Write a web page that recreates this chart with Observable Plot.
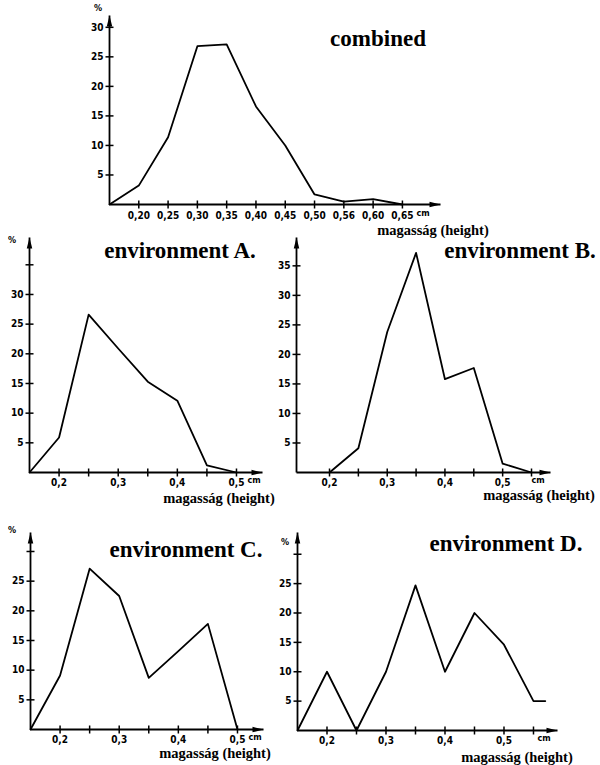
<!DOCTYPE html>
<html>
<head>
<meta charset="utf-8">
<script src="https://cdn.jsdelivr.net/npm/d3@7"></script>
<script src="https://cdn.jsdelivr.net/npm/@observablehq/plot@0.6"></script>
<style>
  body { margin: 0; background: #fff; }
  #wrap { position: relative; width: 600px; height: 765px; overflow: hidden; background: #fff; }
  .panel { position: absolute; }
  .lbl { position: absolute; transform: translate(-50%, -50%); white-space: nowrap; color: #000; line-height: 1; }
  .title { font-family: "Liberation Serif", "DejaVu Serif", serif; font-weight: bold; font-size: 23px; }
  .xname { font-family: "Liberation Serif", "DejaVu Serif", serif; font-weight: bold; font-size: 14.5px; }
  .pct { font-family: "DejaVu Sans Condensed", "DejaVu Sans", sans-serif; font-size: 9px; font-weight: bold; }
</style>
</head>
<body>
<div id="wrap"></div>
<script>
// ---------- data ----------
const combinedX = [0.15, 0.20, 0.25, 0.30, 0.35, 0.40, 0.45, 0.50, 0.55, 0.60, 0.65];
const combinedY = [0, 3.2, 11.4, 26.8, 27.1, 16.6, 10.0, 1.7, 0.5, 0.9, 0];
const combinedXTicks = [0.20, 0.25, 0.30, 0.35, 0.40, 0.45, 0.50, 0.55, 0.60, 0.65];
const combinedXLabels = ["0,20", "0,25", "0,30", "0,35", "0,40", "0,45", "0,50", "0,56", "0,60", "0,65"];
const combinedYTicks = [5, 10, 15, 20, 25, 30];
const combinedYLabels = ["5", "10", "15", "20", "25", "30"];

const envAX = [0.15, 0.20, 0.25, 0.30, 0.35, 0.40, 0.45, 0.50];
const envAY = [0, 5.9, 26.6, 20.9, 15.3, 12.1, 1.2, 0];
const envBX = [0.20, 0.25, 0.30, 0.35, 0.40, 0.45, 0.50, 0.55];
const envBY = [0, 4.1, 23.8, 37.2, 15.8, 17.7, 1.5, 0];
const envCX = [0.15, 0.20, 0.25, 0.30, 0.35, 0.40, 0.45, 0.50];
const envCY = [0, 9.1, 27.1, 22.5, 8.7, 13.2, 17.8, 0];
const envDX = [0.15, 0.20, 0.25, 0.30, 0.35, 0.40, 0.45, 0.50, 0.55, 0.57];
const envDY = [0, 10, 0, 10, 24.7, 10, 20, 14.6, 5, 5];

const envXTicksAC = [0.20, 0.25, 0.30, 0.35, 0.40, 0.45, 0.50];
const envXLabelsAC = ["0,2", "", "0,3", "", "0,4", "", "0,5"];
const envXTicksBD = [0.20, 0.25, 0.30, 0.35, 0.40, 0.45, 0.50, 0.55];
const envXLabelsBD = ["0,2", "", "0,3", "", "0,4", "", "0,5", ""];
const envYTicksAB = [5, 10, 15, 20, 25, 30, 35];
const envYLabelsAB = ["5", "10", "15", "20", "25", "30", "35"];
const envYLabelsA = ["5", "10", "15", "20", "25", "30", ""];
const envYTicksCD = [5, 10, 15, 20, 25, 30];
const envYLabelsCD = ["5", "10", "15", "20", "25", ""];

const titles = ["combined", "environment A.", "environment B.", "environment C.", "environment D."];
const xName = "magasság (height)";
const unitX = "cm";
const unitY = "%";

// ---------- arrowhead symbols ----------
const rad = size => Math.sqrt(size / Math.PI);
const headRight = {draw(ctx, size) { const r = rad(size); ctx.moveTo(0, 0); ctx.lineTo(-2 * r, -0.5 * r); ctx.lineTo(-2 * r, 0.5 * r); ctx.closePath(); }};
const headUp = {draw(ctx, size) { const r = rad(size); ctx.moveTo(0, 0); ctx.lineTo(-0.5 * r, 2 * r); ctx.lineTo(0.5 * r, 2 * r); ctx.closePath(); }};

// ---------- drawing ----------
const wrap = document.getElementById("wrap");
const tickFont = '"DejaVu Sans Condensed", "DejaVu Sans", sans-serif';
const TICK = 4; // tick half-length in px

function panel(cfg) {
  const data = cfg.xs.map((x, i) => ({x, y: cfg.ys[i]}));
  const x0 = cfg.xDomain[0], x1 = cfg.xDomain[1];
  const y0 = cfg.yDomain[0], y1 = cfg.yDomain[1];
  const hx = TICK * (x1 - x0) / (cfg.width - cfg.ml - cfg.mr);
  const hy = TICK * (y1 - y0) / (cfg.height - cfg.mt - cfg.mb);
  const xl = cfg.xTicks.map((x, i) => ({x, y: y0, label: cfg.xLabels[i]}));
  const yl = cfg.yTicks.map((y, i) => ({x: x0, y, label: cfg.yLabels[i]}));
  const xTickSegs = cfg.xTicks.map(x => ({p: x, q: x, r: y0 - hy, s: y0 + hy}));
  const yTickSegs = cfg.yTicks.map(y => ({p: x0 - hx, q: x0 + hx, r: y, s: y}));
  const svg = Plot.plot({
    width: cfg.width, height: cfg.height,
    marginLeft: cfg.ml, marginRight: cfg.mr, marginTop: cfg.mt, marginBottom: cfg.mb,
    style: {overflow: "visible", background: "transparent"},
    x: {domain: cfg.xDomain, axis: null},
    y: {domain: cfg.yDomain, axis: null},
    marks: [
      Plot.link([{a: x0, b: x1, c: y0}], {x1: "a", x2: "b", y1: "c", y2: "c", stroke: "black", strokeWidth: 1.8}),
      Plot.link([{a: x0, b: y0, c: y1}], {x1: "a", x2: "a", y1: "b", y2: "c", stroke: "black", strokeWidth: 1.8}),
      Plot.dot([{a: x1, b: y0}], {x: "a", y: "b", symbol: headRight, r: 5.5, fill: "black", stroke: "none"}),
      Plot.dot([{a: x0, b: y1}], {x: "a", y: "b", symbol: headUp, r: 5.5, fill: "black", stroke: "none"}),
      Plot.link(xTickSegs, {x1: "p", x2: "q", y1: "r", y2: "s", stroke: "black", strokeWidth: 1.5}),
      Plot.link(yTickSegs, {x1: "p", x2: "q", y1: "r", y2: "s", stroke: "black", strokeWidth: 1.5}),
      Plot.text(xl, {x: "x", y: "y", text: "label", dy: cfg.xLabelDy, fontSize: 10, fontFamily: tickFont, fontWeight: "bold", fill: "black"}),
      Plot.text(yl, {x: "x", y: "y", text: "label", dx: -6, textAnchor: "end", fontSize: 10, fontFamily: tickFont, fontWeight: "bold", fill: "black"}),
      Plot.text([unitX], {frameAnchor: "bottom-right", dx: cfg.cmDx, dy: cfg.xLabelDy, textAnchor: "start", fontSize: 9, fontFamily: tickFont, fontWeight: "bold", fill: "black"}),
      Plot.line(data, {x: "x", y: "y", stroke: "black", strokeWidth: 1.8})
    ]
  });
  svg.classList.add("panel");
  svg.style.left = cfg.left + "px";
  svg.style.top = cfg.top + "px";
  wrap.appendChild(svg);
}

panel({xs: combinedX, ys: combinedY, xTicks: combinedXTicks, xLabels: combinedXLabels,
  yTicks: combinedYTicks, yLabels: combinedYLabels,
  xDomain: [0.15, 0.715], yDomain: [0, 32],
  left: 60, top: 0, width: 420, height: 230, ml: 49, mr: 40, mt: 15, mb: 26, xLabelDy: 11, cmDx: -24});

panel({xs: envAX, ys: envAY, xTicks: envXTicksAC, xLabels: envXLabelsAC,
  yTicks: envYTicksAB, yLabels: envYLabelsA,
  xDomain: [0.15, 0.544], yDomain: [0, 39.6],
  left: 0, top: 230, width: 290, height: 270, ml: 29, mr: 28, mt: 7, mb: 28, xLabelDy: 10, cmDx: -15});

panel({xs: envBX, ys: envBY, xTicks: envXTicksBD, xLabels: envXLabelsBD,
  yTicks: envYTicksAB, yLabels: envYLabelsAB,
  xDomain: [0.1428, 0.5829], yDomain: [0, 39.8],
  left: 250, top: 230, width: 350, height: 270, ml: 46, mr: 50, mt: 7, mb: 28, xLabelDy: 10, cmDx: -19});

panel({xs: envCX, ys: envCY, xTicks: envXTicksAC, xLabels: envXLabelsAC,
  yTicks: envYTicksCD, yLabels: envYLabelsCD,
  xDomain: [0.15, 0.544], yDomain: [0, 33.2],
  left: 0, top: 500, width: 290, height: 265, ml: 30, mr: 27, mt: 32, mb: 36, xLabelDy: 10, cmDx: -15});

panel({xs: envDX, ys: envDY, xTicks: envXTicksBD, xLabels: envXLabelsBD,
  yTicks: envYTicksCD, yLabels: envYLabelsCD,
  xDomain: [0.15, 0.5907], yDomain: [0, 33.7],
  left: 250, top: 500, width: 350, height: 265, ml: 47, mr: 43, mt: 32, mb: 35, xLabelDy: 10, cmDx: -20});

// ---------- html labels ----------
function label(text, cls, cx, cy) {
  const d = document.createElement("div");
  d.className = "lbl " + cls;
  d.textContent = text;
  d.style.left = cx + "px";
  d.style.top = cy + "px";
  wrap.appendChild(d);
}
const titlePos = [[378, 38], [180, 250], [520, 250], [186, 549], [506, 543]];
titles.forEach((t, i) => label(t, "title", titlePos[i][0], titlePos[i][1]));
const namePos = [[433, 230], [219, 498], [539, 495], [215, 753], [517, 757]];
namePos.forEach(p => label(xName, "xname", p[0], p[1]));
const pctPos = [[98, 8], [12, 240], [12, 530], [285, 542]];
pctPos.forEach(p => label(unitY, "pct", p[0], p[1]));
</script>
</body>
</html>
